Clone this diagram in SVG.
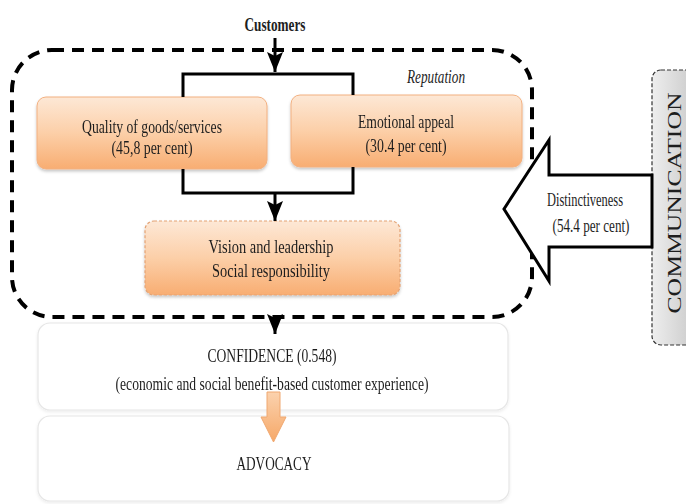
<svg xmlns="http://www.w3.org/2000/svg" width="686" height="504" viewBox="0 0 686 504">
<style>
text{font-family:"Liberation Serif","DejaVu Serif",serif;fill:#1e1e1e;font-size:18px}
.c{text-anchor:middle}
.con{fill:none;stroke:#000;stroke-width:3}
.orange{fill:url(#og);stroke:#f2b080;stroke-width:1}
.light{fill:#fff;stroke:#e6e6e6;stroke-width:1.2}
</style>
<defs>
<linearGradient id="og" x1="0" y1="0" x2="0" y2="1">
<stop offset="0" stop-color="#fde8d6"/>
<stop offset="0.5" stop-color="#fccfa8"/>
<stop offset="1" stop-color="#f8ad72"/>
</linearGradient>
<linearGradient id="gg" x1="0" y1="0" x2="1" y2="0">
<stop offset="0" stop-color="#eeeeee"/>
<stop offset="1" stop-color="#c4c4c4"/>
</linearGradient>
<linearGradient id="ag" x1="0" y1="0" x2="0" y2="1">
<stop offset="0" stop-color="#fbd2ae"/>
<stop offset="1" stop-color="#f6a868"/>
</linearGradient>
<filter id="sh" x="-5%" y="-10%" width="110%" height="130%">
<feDropShadow dx="0" dy="2" stdDeviation="1.5" flood-color="#000" flood-opacity="0.22"/>
</filter>
<filter id="shl" x="-5%" y="-10%" width="110%" height="130%">
<feDropShadow dx="0" dy="1.5" stdDeviation="1.5" flood-color="#000" flood-opacity="0.08"/>
</filter>
<marker id="ah" markerUnits="userSpaceOnUse" markerWidth="20" markerHeight="16" viewBox="0 0 20 16" refX="20" refY="8" orient="auto">
<path d="M0,0 L4,8 L0,16 L20,8 Z" fill="#000"/>
</marker>
</defs>

<g id="reputation-group">
<rect x="12" y="50" width="520" height="267" rx="40" ry="40" fill="none" stroke="#000" stroke-width="4" stroke-dasharray="12 8"/>
<text x="436" y="83" class="c" font-style="italic" font-size="16" textLength="58" lengthAdjust="spacingAndGlyphs">Reputation</text>
</g>

<g id="customers">
<text x="275" y="31" class="c" font-weight="bold" font-size="19" textLength="61" lengthAdjust="spacingAndGlyphs">Customers</text>
</g>

<g id="quality" filter="url(#sh)">
<rect class="orange" x="37" y="97" width="230" height="72" rx="9"/>
<text x="152" y="133" class="c" textLength="140" lengthAdjust="spacingAndGlyphs">Quality of goods/services</text>
<text x="152" y="154" class="c" textLength="81" lengthAdjust="spacingAndGlyphs">(45,8 per cent)</text>
</g>

<g id="emotional" filter="url(#sh)">
<rect class="orange" x="291" y="95" width="231" height="72" rx="9"/>
<text x="406" y="128" class="c" textLength="96" lengthAdjust="spacingAndGlyphs">Emotional appeal</text>
<text x="406" y="152" class="c" textLength="81" lengthAdjust="spacingAndGlyphs">(30.4 per cent)</text>
</g>

<g id="vision" filter="url(#sh)">
<rect x="145" y="221" width="255" height="74" rx="9" fill="url(#og)" stroke="#e3a274" stroke-width="1.2" stroke-dasharray="3 2"/>
<text x="271" y="253" class="c" textLength="125" lengthAdjust="spacingAndGlyphs">Vision and leadership</text>
<text x="271" y="277" class="c" textLength="118" lengthAdjust="spacingAndGlyphs">Social responsibility</text>
</g>

<g id="communication">
<rect x="652" y="70" width="50" height="275" rx="9" fill="url(#gg)" stroke="#333" stroke-width="1.2" stroke-dasharray="4 2"/>
<text transform="translate(681,203) rotate(-90)" class="c" font-size="18" textLength="221" lengthAdjust="spacingAndGlyphs">COMMUNICATION</text>
</g>

<g id="distinctiveness">
<polygon points="652,175 549,175 549,140 504,209 549,281 549,247 652,247" fill="#fff" stroke="#000" stroke-width="3" stroke-linejoin="miter"/>
<text x="585" y="206" class="c" font-size="17" textLength="76" lengthAdjust="spacingAndGlyphs">Distinctiveness</text>
<text x="591" y="232" class="c" font-size="17" textLength="77" lengthAdjust="spacingAndGlyphs">(54.4 per cent)</text>
</g>

<g id="confidence" filter="url(#shl)">
<rect class="light" x="38" y="323" width="470" height="87" rx="12"/>
<text x="272" y="362" class="c" font-size="19" textLength="129" lengthAdjust="spacingAndGlyphs">CONFIDENCE (0.548)</text>
<text x="272" y="390" class="c" font-size="18" textLength="313" lengthAdjust="spacingAndGlyphs">(economic and social benefit-based customer experience)</text>
</g>

<g id="advocacy" filter="url(#shl)">
<rect class="light" x="38" y="416" width="471" height="85" rx="12"/>
<text x="274" y="470" class="c" font-size="19" textLength="75" lengthAdjust="spacingAndGlyphs">ADVOCACY</text>
</g>

<g id="flow-arrow">
<polygon points="267,392 280,392 280,417 286,417 273.5,442 261,417 267,417" fill="url(#ag)" stroke="#f0a870" stroke-width="1"/>
</g>

<g id="connectors">
<line class="con" x1="275" y1="38" x2="275" y2="72" marker-end="url(#ah)"/>
<polyline class="con" points="183,97 183,74 353,74 353,95"/>
<polyline class="con" points="183,169 183,193 353,193 353,167"/>
<line class="con" x1="275" y1="193" x2="275" y2="221" marker-end="url(#ah)"/>
<line class="con" x1="275" y1="317" x2="275" y2="334" marker-end="url(#ah)"/>
</g>
</svg>
